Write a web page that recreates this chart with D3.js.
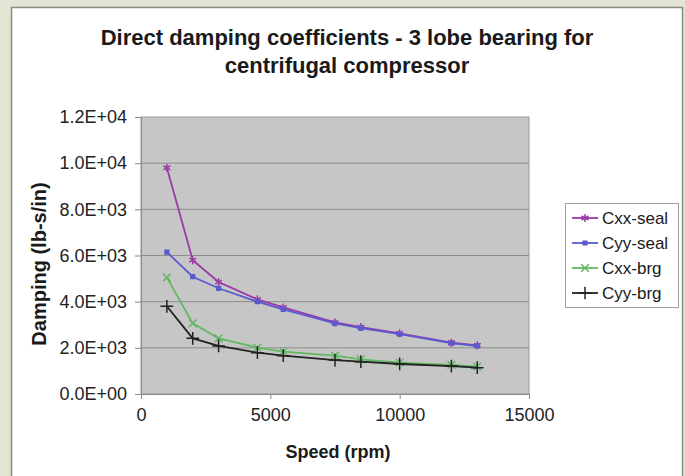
<!DOCTYPE html>
<html>
<head>
<meta charset="utf-8">
<script src="https://cdn.jsdelivr.net/npm/d3@7"></script>
<style>
  body { margin: 0; background: #e3e4d3; }
  svg { display: block; font-family: Arial, "Liberation Sans", sans-serif; }
</style>
</head>
<body>
<script>
// data
const vitesses = [1000, 2000, 3000, 4500, 5500, 7500, 8500, 10000, 12000, 13000];
const cxxSeal = [9800, 5800, 4850, 4100, 3750, 3100, 2900, 2630, 2220, 2110];
const cyySeal = [6150, 5080, 4580, 4000, 3670, 3060, 2850, 2590, 2200, 2080];
const cxxBrg = [5050, 3060, 2410, 2010, 1840, 1660, 1500, 1360, 1260, 1190];
const cyyBrg = [3800, 2410, 2080, 1790, 1660, 1470, 1400, 1300, 1210, 1140];
const noms = ['Cxx-seal', 'Cyy-seal', 'Cxx-brg', 'Cyy-brg'];
const yTicks = [0, 2000, 4000, 6000, 8000, 10000, 12000];
const xTicks = [0, 5000, 10000, 15000];

const couleurs = ['#9a3aa6', '#5a5ad0', '#62b862', '#222222'];
const symboles = [d3.symbolAsterisk, d3.symbolSquare, d3.symbolTimes, d3.symbolPlus];
const tailles = [45, 14, 40, 55];

const largeur = 685, hauteur = 476;
const zone = { left: 141, right: 529, top: 117, bottom: 394 };

// canevas
const canevas = d3.select('body')
  .append('svg')
  .attr('width', largeur)
  .attr('height', hauteur);

// carte blanche
canevas.append('rect')
  .attr('x', 11.5).attr('y', 7.5)
  .attr('width', 671).attr('height', 480)
  .attr('fill', '#fff')
  .attr('stroke', '#8a8a80')
  .attr('stroke-width', 1.5);

// titre
const titre = canevas.append('text')
  .attr('text-anchor', 'middle')
  .attr('font-weight', 'bold')
  .attr('font-size', 22)
  .attr('fill', '#1a1a1a');
titre.append('tspan').attr('x', 347).attr('y', 45).text('Direct damping coefficients - 3 lobe bearing for');
titre.append('tspan').attr('x', 347).attr('y', 73).text('centrifugal compressor');

// echelles
const x = d3.scaleLinear().domain([0, 15000]).range([zone.left, zone.right]);
const y = d3.scaleLinear().domain([0, 12000]).range([zone.bottom, zone.top]);

const formatE = v => {
  if (v === 0) return '0.0E+00';
  const e = Math.floor(Math.log10(v));
  return (v / Math.pow(10, e)).toFixed(1) + 'E+' + String(e).padStart(2, '0');
};

// zone de trace
canevas.append('rect')
  .attr('x', zone.left).attr('y', zone.top)
  .attr('width', zone.right - zone.left).attr('height', zone.bottom - zone.top)
  .attr('fill', '#c6c6c6')
  .attr('stroke', '#9a9a9a');

// grille
canevas.append('g')
  .selectAll('line')
  .data(yTicks.slice(1, -1))
  .enter()
  .append('line')
  .attr('x1', zone.left).attr('x2', zone.right)
  .attr('y1', d => y(d)).attr('y2', d => y(d))
  .attr('stroke', '#8c8c8c');

// axes
const axeY = canevas.append('g')
  .attr('transform', `translate(${zone.left},0)`)
  .call(d3.axisLeft(y).tickValues(yTicks).tickFormat(formatE).tickSize(6).tickPadding(8));
const axeX = canevas.append('g')
  .attr('transform', `translate(0,${zone.bottom})`)
  .call(d3.axisBottom(x).tickValues(xTicks).tickFormat(d3.format('d')).tickSize(5).tickPadding(9));
[axeY, axeX].forEach(a => {
  a.select('.domain').attr('stroke', '#8a8a8a');
  a.selectAll('line').attr('stroke', '#8a8a8a');
  a.selectAll('text').attr('font-size', 18).attr('fill', '#222')
    .attr('font-family', 'Arial, "Liberation Sans", sans-serif');
});

// titres des axes
canevas.append('text')
  .attr('x', 338).attr('y', 458)
  .attr('text-anchor', 'middle')
  .attr('font-weight', 'bold').attr('font-size', 18).attr('fill', '#1a1a1a')
  .text('Speed (rpm)');
canevas.append('text')
  .attr('transform', 'translate(46,264) rotate(-90)')
  .attr('text-anchor', 'middle')
  .attr('font-weight', 'bold').attr('font-size', 20).attr('fill', '#1a1a1a')
  .text('Damping (lb-s/in)');

// series
const series = [cxxSeal, cyySeal, cxxBrg, cyyBrg].map((valeurs, i) => ({
  nom: noms[i],
  points: vitesses.map((v, j) => ({ x: v, y: valeurs[j] }))
}));

const ligne = d3.line().x(d => x(d.x)).y(d => y(d.y));

const courbes = canevas.append('g')
  .selectAll('g')
  .data(series)
  .enter()
  .append('g');

courbes.append('path')
  .attr('d', d => ligne(d.points))
  .attr('fill', 'none')
  .attr('stroke', (d, i) => couleurs[i])
  .attr('stroke-width', 1.8);

courbes.each(function (d, i) {
  d3.select(this).selectAll('path.marque')
    .data(d.points)
    .enter()
    .append('path')
    .attr('class', 'marque')
    .attr('transform', p => `translate(${x(p.x)},${y(p.y)})`)
    .attr('d', d3.symbol().type(symboles[i]).size(tailles[i]))
    .attr('fill', i === 1 ? couleurs[i] : 'none')
    .attr('stroke', couleurs[i])
    .attr('stroke-width', 1.5);
});

// legende
const legende = canevas.append('g');
legende.append('rect')
  .attr('x', 565.5).attr('y', 203.5)
  .attr('width', 113).attr('height', 104)
  .attr('fill', '#fff')
  .attr('stroke', '#a0a0a0');

const entrees = legende.selectAll('g')
  .data(noms)
  .enter()
  .append('g')
  .attr('transform', (d, i) => `translate(0,${218 + i * 25})`);
entrees.append('line')
  .attr('x1', 572).attr('x2', 598)
  .attr('stroke', (d, i) => couleurs[i])
  .attr('stroke-width', 1.8);
entrees.append('path')
  .attr('transform', 'translate(585,0)')
  .attr('d', (d, i) => d3.symbol().type(symboles[i]).size(tailles[i])())
  .attr('fill', (d, i) => i === 1 ? couleurs[i] : 'none')
  .attr('stroke', (d, i) => couleurs[i])
  .attr('stroke-width', 1.5);
entrees.append('text')
  .attr('x', 602).attr('y', 6)
  .attr('font-size', 17).attr('fill', '#1a1a1a')
  .text(d => d);
</script>
</body>
</html>
